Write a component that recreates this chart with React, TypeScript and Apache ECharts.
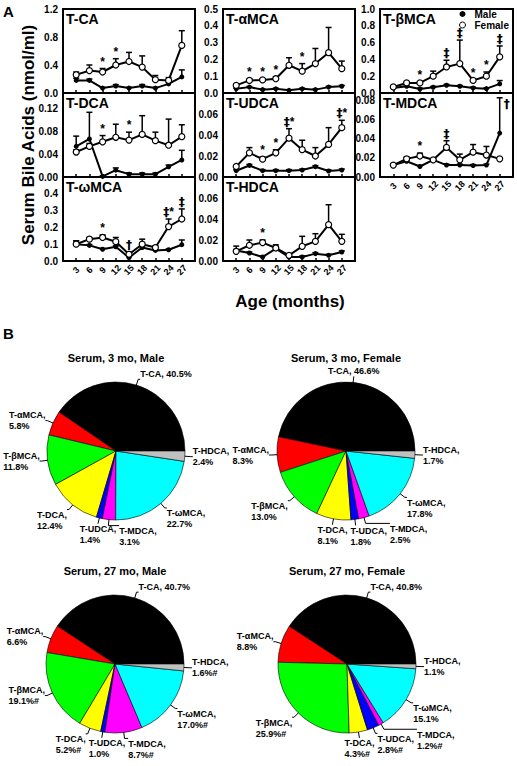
import React, { useEffect, useRef } from 'react';
import * as echarts from 'echarts';

// ---------- Panel A data ----------
const months = [3, 6, 9, 12, 15, 18, 21, 24, 27];

// T-CA
const caMale = [0.18, 0.18, 0.07, 0.1, 0.07, 0.1, 0.07, 0.13, 0.23];
const caMaleErr = [0.03, 0.02, 0.01, 0.02, 0.01, 0.02, 0.01, 0.02, 0.1];
const caFemale = [0.26, 0.32, 0.3, 0.4, 0.45, 0.37, 0.19, 0.18, 0.68];
const caFemaleErr = [0.04, 0.08, 0.05, 0.09, 0.13, 0.16, 0.06, 0.04, 0.21];
const caMarks = ['', '', '*', '*', '', '', '', '', ''];

// T-DCA
const dcaMale = [0.054, 0.067, 0.001, 0.012, 0.005, 0.005, 0.005, 0.018, 0.03];
const dcaMaleErr = [0.018, 0.047, 0.001, 0.004, 0.002, 0.002, 0.002, 0.003, 0.017];
const dcaFemale = [0.044, 0.054, 0.062, 0.07, 0.065, 0.075, 0.064, 0.056, 0.071];
const dcaFemaleErr = [0.004, 0.005, 0.011, 0.023, 0.014, 0.033, 0.015, 0.046, 0.021];
const dcaMarks = ['', '', '*', '', '*', '', '', '', ''];

// T-ωMCA
const omMale = [0.1, 0.093, 0.07, 0.085, 0.02, 0.08, 0.063, 0.067, 0.097];
const omMaleErr = [0.02, 0.005, 0.005, 0.005, 0.005, 0.005, 0.005, 0.005, 0.028];
const omFemale = [0.1, 0.13, 0.14, 0.115, 0.04, 0.1, 0.08, 0.205, 0.25];
const omFemaleErr = [0.02, 0.01, 0.015, 0.025, 0.015, 0.03, 0.01, 0.045, 0.06];
const omMarks = ['', '', '*', '', '†', '', '', '‡*', '‡'];

// T-αMCA
const amMale = [0.025, 0.035, 0.02, 0.025, 0.016, 0.025, 0.02, 0.035, 0.04];
const amMaleErr = [0.004, 0.004, 0.004, 0.004, 0.004, 0.004, 0.004, 0.005, 0.005];
const amFemale = [0.045, 0.075, 0.078, 0.085, 0.165, 0.13, 0.175, 0.24, 0.145];
const amFemaleErr = [0.005, 0.008, 0.007, 0.01, 0.045, 0.045, 0.09, 0.15, 0.045];
const amMarks = ['', '*', '*', '*', '', '*', '', '', ''];

// T-UDCA
const udMale = [0.006, 0.011, 0.006, 0.006, 0.006, 0.0066, 0.0098, 0.0057, 0.0066];
const udMaleErr = [0.001, 0.001, 0.001, 0.001, 0.001, 0.001, 0.001, 0.001, 0.001];
const udFemale = [0.01, 0.023, 0.017, 0.023, 0.037, 0.026, 0.02, 0.031, 0.047];
const udFemaleErr = [0.001, 0.005, 0.002, 0.003, 0.009, 0.009, 0.008, 0.016, 0.007];
const udMarks = ['', '', '*', '*', '‡*', '', '', '', '‡*'];

// T-HDCA
const hdMale = [0.01, 0.0076, 0.0038, 0.0117, 0.0038, 0.0038, 0.007, 0.0054, 0.0086];
const hdMaleErr = [0.001, 0.001, 0.001, 0.001, 0.001, 0.001, 0.001, 0.001, 0.001];
const hdFemale = [0.0092, 0.015, 0.0175, 0.0124, 0.0054, 0.014, 0.0187, 0.0346, 0.0187];
const hdFemaleErr = [0.005, 0.005, 0.0025, 0.003, 0.001, 0.0095, 0.0073, 0.019, 0.0067];
const hdMarks = ['', '', '*', '', '', '', '', '', ''];

// T-βMCA
const bmMale = [0.06, 0.08, 0.048, 0.068, 0.092, 0.08, 0.06, 0.052, 0.108];
const bmMaleErr = [0.01, 0.01, 0.01, 0.01, 0.01, 0.01, 0.01, 0.01, 0.04];
const bmFemale = [0.072, 0.12, 0.12, 0.2, 0.31, 0.35, 0.15, 0.2, 0.43];
const bmFemaleErr = [0.01, 0.01, 0.01, 0.06, 0.08, 0.28, 0.01, 0.05, 0.13];
const bmMarks = ['', '', '*', '', '‡', '‡', '*', '*', '‡'];

// T-MDCA
const mdMale = [0.0125, 0.0165, 0.011, 0.018, 0.0125, 0.0125, 0.012, 0.0125, 0.046];
const mdMaleErr = [0.001, 0.001, 0.001, 0.001, 0.001, 0.001, 0.001, 0.001, 0.037];
const mdFemale = [0.0125, 0.019, 0.022, 0.018, 0.031, 0.018, 0.026, 0.023, 0.019];
const mdFemaleErr = [0.001, 0.002, 0.003, 0.001, 0.007, 0.006, 0.008, 0.009, 0.001];
const mdMarks = ['', '', '*', '', '‡', '', '', '', '†'];

// ---------- Panel B data ----------
const pieNames = ['T-CA', 'T-αMCA', 'T-βMCA', 'T-DCA', 'T-UDCA', 'T-MDCA', 'T-ωMCA', 'T-HDCA'];
const male3 = [40.5, 5.8, 11.8, 12.4, 1.4, 3.1, 22.7, 2.4];
const female3 = [46.6, 8.3, 13.0, 8.1, 1.8, 2.5, 17.8, 1.7];
const male27 = [40.7, 6.6, 19.1, 5.2, 1.0, 8.7, 17.0, 1.6];
const female27 = [40.8, 8.8, 25.9, 4.3, 2.8, 1.2, 15.1, 1.1];
const noSig = [false, false, false, false, false, false, false, false];
const male27Sig = [false, false, true, true, false, true, true, true];
const female27Sig = [false, false, true, true, true, true, false, false];
const pieColors = ['#000000', '#ff0000', '#00ff00', '#ffff00', '#0000ff', '#ff00ff', '#00ffff', '#c0c0c0'];

const FONT = '"Liberation Sans", Arial, Helvetica, sans-serif';

const colX = [63, 223, 380];
const colW = [132, 132, 133];
const rowY = [9, 93, 177];
const rowH = 84;
const PIE_R = 69;

const panels = [
  { title: 'T-CA', col: 0, row: 0, male: caMale, maleErr: caMaleErr, female: caFemale, femaleErr: caFemaleErr, marks: caMarks, max: 1.2, interval: 0.4, top: 1.2, dec: 1, bottom: false },
  { title: 'T-DCA', col: 0, row: 1, male: dcaMale, maleErr: dcaMaleErr, female: dcaFemale, femaleErr: dcaFemaleErr, marks: dcaMarks, max: 0.148, interval: 0.04, top: 0.12, dec: 2, bottom: false },
  { title: 'T-ωMCA', col: 0, row: 2, male: omMale, maleErr: omMaleErr, female: omFemale, femaleErr: omFemaleErr, marks: omMarks, max: 0.5, interval: 0.1, top: 0.4, dec: 1, bottom: true },
  { title: 'T-αMCA', col: 1, row: 0, male: amMale, maleErr: amMaleErr, female: amFemale, femaleErr: amFemaleErr, marks: amMarks, max: 0.5, interval: 0.1, top: 0.5, dec: 1, bottom: false },
  { title: 'T-UDCA', col: 1, row: 1, male: udMale, maleErr: udMaleErr, female: udFemale, femaleErr: udFemaleErr, marks: udMarks, max: 0.08, interval: 0.02, top: 0.06, dec: 2, bottom: false },
  { title: 'T-HDCA', col: 1, row: 2, male: hdMale, maleErr: hdMaleErr, female: hdFemale, femaleErr: hdFemaleErr, marks: hdMarks, max: 0.08, interval: 0.02, top: 0.06, dec: 2, bottom: true },
  { title: 'T-βMCA', col: 2, row: 0, male: bmMale, maleErr: bmMaleErr, female: bmFemale, femaleErr: bmFemaleErr, marks: bmMarks, max: 1.0, interval: 0.2, top: 1.0, dec: 1, bottom: false },
  { title: 'T-MDCA', col: 2, row: 1, male: mdMale, maleErr: mdMaleErr, female: mdFemale, femaleErr: mdFemaleErr, marks: mdMarks, max: 0.088, interval: 0.02, top: 0.08, dec: 2, bottom: true },
];

const pies = [
  { title: 'Serum, 3 mo, Male', values: male3, sig: noSig, center: [116, 451] },
  { title: 'Serum, 3 mo, Female', values: female3, sig: noSig, center: [346, 451] },
  { title: 'Serum, 27 mo, Male', values: male27, sig: male27Sig, center: [115, 664] },
  { title: 'Serum, 27 mo, Female', values: female27, sig: female27Sig, center: [347, 664] },
];

function makeLabelLayout(pc: any) {
  const total = pc.values.reduce((a: number, b: number) => a + b, 0);
  const placed: number[][] = [];
  return (params: any) => {
    const k = params.dataIndex;
    if (k === 0) placed.length = 0;
    let cum = 0;
    for (let j = 0; j < k; j++) cum += pc.values[j];
    const mid = ((cum + pc.values[k] / 2) / total) * 2 * Math.PI;
    const ux = Math.cos(mid);
    const uy = -Math.sin(mid);
    const cx = pc.center[0];
    const cy = pc.center[1];
    const p1 = [cx + ux * PIE_R * 0.78, cy + uy * PIE_R * 0.78];
    const e = [cx + ux * (PIE_R + 6), cy + uy * (PIE_R + 6)];
    const w = params.labelRect.width;
    const h = params.labelRect.height;
    let left: number;
    if (ux > 0.25) left = e[0] + 2;
    else if (ux < -0.25) left = e[0] - 2 - w;
    else left = e[0] - w / 2;
    let top: number;
    if (uy < -0.5) top = e[1] - h;
    else if (uy > 0.5) top = e[1];
    else top = e[1] - h / 2;
    let moved = true;
    let guard = 0;
    while (moved && guard < 20) {
      moved = false;
      guard++;
      for (const r of placed) {
        if (left < r[0] + r[2] && left + w > r[0] && top < r[1] + r[3] && top + h > r[1]) {
          left = r[0] + r[2] + 3;
          moved = true;
        }
      }
    }
    placed.push([left, top, w, h]);
    const lx = Math.min(Math.max(e[0], left), left + w);
    const ly = Math.min(Math.max(e[1], top), top + h);
    return { x: left, y: top, align: 'left', verticalAlign: 'top', labelLinePoints: [p1, e, [lx, ly]] };
  };
}

const markRich = {
  a: { fontFamily: '"Liberation Sans", Arial, sans-serif', fontSize: 12, fontWeight: 'bold', fill: '#000', color: '#000' },
  d: { fontFamily: '"DejaVu Sans", sans-serif', fontSize: 12, fontWeight: 'bold', fill: '#000', color: '#000' },
};

function buildOption() {
  const grid: any[] = [];
  const xAxis: any[] = [];
  const yAxis: any[] = [];
  const series: any[] = [];
  const graphic: any[] = [];

  panels.forEach((p, i) => {
    grid.push({
      left: colX[p.col], top: rowY[p.row], width: colW[p.col], height: rowH,
      show: true, borderColor: '#000', borderWidth: 2, backgroundColor: 'transparent',
    });
    xAxis.push({
      type: 'value', gridIndex: i, min: 0, max: 30, interval: 3,
      splitLine: { show: false }, axisLine: { show: false },
      axisTick: { show: true, inside: true, length: 3, lineStyle: { color: '#000', width: 1.5 } },
      axisLabel: {
        show: p.bottom, rotate: 45, align: 'center', verticalAlign: 'middle', margin: 9,
        fontSize: 9, fontWeight: 'bold', fontFamily: FONT, color: '#000',
        formatter: (v: number) => (months.indexOf(v) >= 0 ? String(v) : ''),
      },
    });
    yAxis.push({
      type: 'value', gridIndex: i, min: 0, max: p.max, interval: p.interval,
      splitLine: { show: false }, axisLine: { show: false }, axisTick: { show: false },
      axisLabel: {
        fontSize: 10, fontWeight: 'bold', fontFamily: FONT, color: '#000', margin: 5,
        formatter: (v: number) => {
          const k = v / p.interval;
          if (Math.abs(k - Math.round(k)) > 1e-6 || v > p.top + 1e-9) return '';
          return v.toFixed(p.dec);
        },
      },
    });
    const errData = [
      ...months.map((m, j) => [m, p.female[j], p.female[j] + p.femaleErr[j]]),
      ...months.map((m, j) => [m, p.male[j], p.male[j] + p.maleErr[j]]),
    ];
    series.push({
      type: 'custom', xAxisIndex: i, yAxisIndex: i, z: 2, silent: true, data: errData,
      itemStyle: { color: '#000' },
      renderItem: (params: any, api: any) => {
        const x = api.value(0);
        const a = api.coord([x, api.value(1)]);
        const b = api.coord([x, api.value(2)]);
        return {
          type: 'group',
          children: [
            { type: 'line', shape: { x1: a[0], y1: a[1], x2: b[0], y2: b[1] }, style: { stroke: '#000', lineWidth: 1.5 } },
            { type: 'line', shape: { x1: b[0] - 3, y1: b[1], x2: b[0] + 3, y2: b[1] }, style: { stroke: '#000', lineWidth: 1.5 } },
          ],
        };
      },
    });
    series.push({
      type: 'line', name: 'Male', xAxisIndex: i, yAxisIndex: i, z: 3, silent: true,
      data: months.map((m, j) => [m, p.male[j]]),
      symbol: 'circle', symbolSize: 5, showSymbol: true,
      lineStyle: { color: '#000', width: 2 }, itemStyle: { color: '#000' },
    });
    series.push({
      type: 'line', name: 'Female', xAxisIndex: i, yAxisIndex: i, z: 4, silent: true,
      data: months.map((m, j) => [m, p.female[j]]),
      symbol: 'circle', symbolSize: 6, showSymbol: true,
      lineStyle: { color: '#000', width: 2 }, itemStyle: { color: '#fff', borderColor: '#000', borderWidth: 1.2 },
    });
    series.push({
      type: 'custom', xAxisIndex: i, yAxisIndex: i, z: 5, silent: true,
      itemStyle: { color: '#000' },
      data: months.map((m, j) => [m, Math.max(p.female[j] + p.femaleErr[j], p.male[j] + p.maleErr[j])]),
      renderItem: (params: any, api: any) => {
        const txt = p.marks[params.dataIndex];
        if (!txt) return null;
        const pt = api.coord([api.value(0), api.value(1)]);
        const cs = params.coordSys;
        let x = pt[0];
        let y = pt[1] - 1;
        let align = 'center';
        let va = 'bottom';
        if (y - 11 < cs.y) {
          x = pt[0] + 4; y = cs.y + 5; align = 'left'; va = 'top';
        }
        const richText = txt.split('').map((c: string) => (c === '*' ? `{a|*}` : `{d|${c}}`)).join('');
        return {
          type: 'text', x, y,
          style: {
            text: richText, rich: markRich, textAlign: align, textVerticalAlign: va,
            font: `bold 12px ${FONT}`, fill: '#000',
          },
        };
      },
    });
    graphic.push({
      type: 'text', x: colX[p.col] + 3, y: rowY[p.row] + 3,
      style: { text: p.title, font: `bold 14px ${FONT}`, fill: '#000', textVerticalAlign: 'top' },
    });
  });

  pies.forEach((pc) => {
    series.push({
      type: 'pie', center: pc.center, radius: PIE_R, startAngle: 0, clockwise: false, silent: true,
      avoidLabelOverlap: false,
      data: pieNames.map((n, k) => ({ name: n, value: pc.values[k], itemStyle: { color: pieColors[k] } })),
      itemStyle: { borderColor: '#000', borderWidth: 0.6 },
      label: {
        show: true, position: 'outside', fontSize: 9, fontWeight: 'bold', fontFamily: FONT, color: '#000', lineHeight: 11,
        formatter: (prm: any) => {
          const k = prm.dataIndex;
          const txt = pc.values[k].toFixed(1) + '%' + (pc.sig[k] ? '#' : '');
          return k === 0 ? `${prm.name}, ${txt}` : `${prm.name},\n${txt}`;
        },
      },
      labelLine: { show: true, length: 6, length2: 4, lineStyle: { color: '#000', width: 1 } },
      labelLayout: makeLabelLayout(pc),
      emphasis: { disabled: true },
    });
    graphic.push({
      type: 'text', x: pc.center[0], y: pc.center[1] - 93,
      style: { text: pc.title, font: `bold 11px ${FONT}`, fill: '#000', textAlign: 'center', textVerticalAlign: 'middle' },
    });
  });

  graphic.push(
    { type: 'text', x: 3, y: 4, style: { text: 'A', font: `bold 15px ${FONT}`, fill: '#000', textVerticalAlign: 'top' } },
    { type: 'text', x: 3, y: 326, style: { text: 'B', font: `bold 15px ${FONT}`, fill: '#000', textVerticalAlign: 'top' } },
    {
      type: 'text', x: 28, y: 135, rotation: Math.PI / 2,
      style: { text: 'Serum Bile Acids (nmol/ml)', font: `bold 17px ${FONT}`, fill: '#000', textAlign: 'center', textVerticalAlign: 'middle' },
    },
    {
      type: 'text', x: 290, y: 301,
      style: { text: 'Age (months)', font: `bold 17px ${FONT}`, fill: '#000', textAlign: 'center', textVerticalAlign: 'middle' },
    },
  );

  return {
    animation: false,
    backgroundColor: '#fff',
    grid, xAxis, yAxis, series, graphic,
    legend: {
      left: 459, top: 9, orient: 'vertical', padding: 0, itemWidth: 6, itemHeight: 6, itemGap: 1,
      icon: 'circle', selectedMode: false,
      textStyle: { fontSize: 10, fontWeight: 'bold', fontFamily: FONT, color: '#000', padding: [0, 0, 0, 4] },
      data: [
        { name: 'Male', itemStyle: { color: '#000' } },
        { name: 'Female', itemStyle: { color: '#fff', borderColor: '#000', borderWidth: 1 } },
      ],
    },
  };
}

export default function App() {
  const ref = useRef<HTMLDivElement>(null);
  useEffect(() => {
    document.body.style.margin = '0';
    if (!ref.current) return;
    const chart = echarts.init(ref.current, undefined, { renderer: 'svg' });
    chart.setOption(buildOption() as any);
    return () => chart.dispose();
  }, []);
  return <div ref={ref} style={{ width: 517, height: 766 }} />;
}
